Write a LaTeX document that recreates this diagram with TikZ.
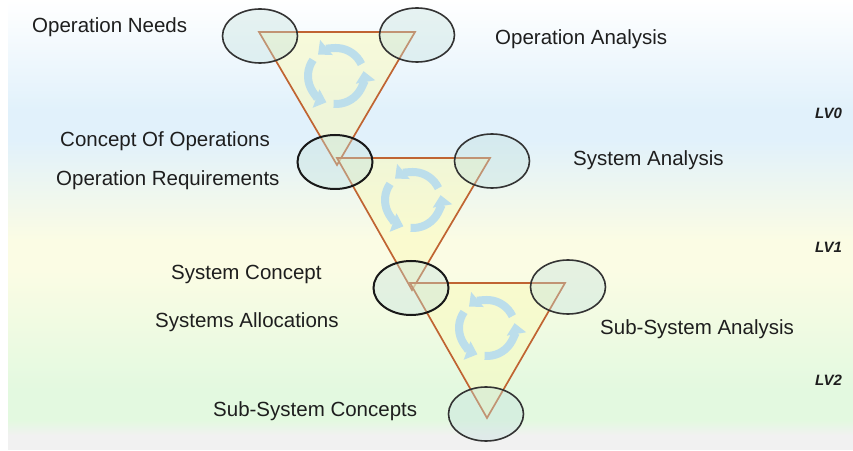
\documentclass[tikz,border=0pt]{standalone}
\usepackage{fontspec}
\setmainfont{Liberation Sans}
\usetikzlibrary{shapes.geometric,arrows.meta,calc}
\definecolor{bgblue}{RGB}{225,241,251}
\definecolor{bgyellow}{RGB}{251,252,228}
\definecolor{bggreen}{RGB}{227,249,224}
\definecolor{bggray}{RGB}{241,241,241}
\definecolor{trifill}{RGB}{250,250,190}
\definecolor{tridraw}{RGB}{192,100,50}
\definecolor{ellfill}{RGB}{195,225,222}
\definecolor{cycblue}{RGB}{188,222,235}
\definecolor{txt}{RGB}{30,30,30}
\newcommand\cycleicon[1]{%
  \foreach \a in {25,145,265}{%
    \draw[cyc] ($(#1)+(\a:28)$) arc[start angle=\a, end angle=\a+105, radius=28];
  }%
}
\begin{document}
\begin{tikzpicture}[x=1pt,y=1pt,
  tri/.style={draw=tridraw, line width=1.7pt, fill=trifill, fill opacity=0.55, line join=miter},
  ell/.style={ellipse, draw=black!80, line width=1.6pt, fill=ellfill, fill opacity=0.38,
              minimum width=75pt, minimum height=54pt, inner sep=0pt},
  ellbold/.style={ell, draw=black!90, line width=2pt},
  cyc/.style={draw=cycblue, line width=8pt, -{Triangle[width=19pt,length=11pt]}},
  lbl/.style={anchor=base west, inner sep=0pt, text=txt, font=\fontsize{20.5}{24}\selectfont},
  lv/.style={anchor=base west, inner sep=0pt, text=txt, font=\fontsize{15}{18}\selectfont\bfseries\itshape}
]
\useasboundingbox (0,0) rectangle (853,450);
% background
\fill[white] (0,0) rectangle (853,450);
\shade[top color=white,bottom color=bgblue] (8,450) rectangle (853,339.5);
\fill[bgblue] (8,340) rectangle (853,309.5);
\shade[top color=bgblue,bottom color=bgyellow] (8,310) rectangle (853,209.5);
\fill[bgyellow] (8,210) rectangle (853,179.5);
\shade[top color=bgyellow,bottom color=bggreen] (8,180) rectangle (853,59.5);
\fill[bggreen] (8,60) rectangle (853,29.5);
\shade[top color=bggreen,bottom color=bggray] (8,30) rectangle (853,14.5);
\fill[bggray] (8,15) rectangle (853,0);

% triangle vertices
\coordinate (A1) at (259,418); \coordinate (B1) at (415,418); \coordinate (C1) at (337,285);
\coordinate (A2) at (337,292); \coordinate (B2) at (490,292); \coordinate (C2) at (412,160);
\coordinate (A3) at (410,167); \coordinate (B3) at (565,167); \coordinate (C3) at (487,32);
\coordinate (G1) at (336,374);
\coordinate (G2) at (413,250);
\coordinate (G3) at (487,122);

% triangles
\path[tri] (A1) -- (B1) -- (C1) -- cycle;
\path[tri] (A2) -- (B2) -- (C2) -- cycle;
\path[tri] (A3) -- (B3) -- (C3) -- cycle;

% cycle icons
\cycleicon{G1}
\cycleicon{G2}
\cycleicon{G3}

% ellipses
\node[ell] (e1) at (260,414) {};
\node[ell] (e2) at (417,415) {};
\node[ellbold] (e3) at (335,288) {};
\node[ell] (e4) at (492,289) {};
\node[ellbold] (e5) at (411,162) {};
\node[ell] (e6) at (568,163) {};
\node[ell] (e7) at (486,36) {};

% labels
\node[lbl] (l1) at (32,417) {Operation Needs};
\node[lbl] (l2) at (495,405) {Operation Analysis};
\node[lbl] (l3) at (60,303) {Concept Of Operations};
\node[lbl] (l4) at (56,264) {Operation Requirements};
\node[lbl] (l5) at (573,284) {System Analysis};
\node[lbl] (l6) at (171,171) {System Concept};
\node[lbl] (l7) at (155,123) {Systems Allocations};
\node[lbl] (l8) at (600,116) {Sub-System Analysis};
\node[lbl] (l9) at (213,34) {Sub-System Concepts};
\node[lv] (v0) at (815,331) {LV0};
\node[lv] (v1) at (815,197) {LV1};
\node[lv] (v2) at (815,65) {LV2};
\end{tikzpicture}
\end{document}
